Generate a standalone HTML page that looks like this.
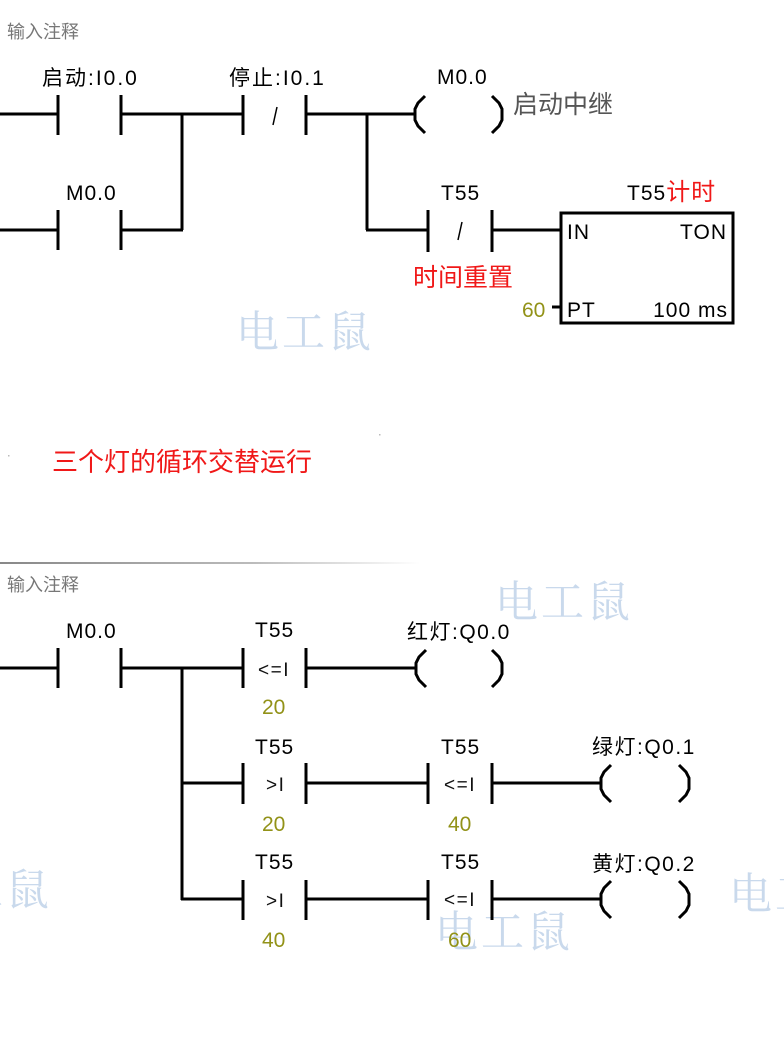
<!DOCTYPE html>
<html>
<head>
<meta charset="utf-8">
<style>
html,body{margin:0;padding:0;background:#fff;}
svg{display:block;}
.t{font-family:"Liberation Sans","Noto Sans CJK SC",sans-serif;font-size:21px;fill:#000;letter-spacing:1px;}
.c{font-family:"Liberation Sans","Noto Sans CJK SC",sans-serif;font-size:18px;fill:#777;}
.cmp{font-family:"Liberation Sans",sans-serif;font-size:19px;fill:#111;letter-spacing:1.5px;}
.ol{font-family:"Liberation Sans",sans-serif;font-size:21px;fill:#929218;}
.red{font-family:"Liberation Sans","Noto Sans CJK SC",sans-serif;fill:#f01818;}
.wm{font-family:"Noto Serif CJK SC","Liberation Serif",serif;font-size:43px;fill:#c9d9ec;letter-spacing:3px;}
</style>
</head>
<body>
<svg width="784" height="1060" viewBox="0 0 784 1060" xmlns="http://www.w3.org/2000/svg">
<defs>
<linearGradient id="sep" x1="0" x2="1" y1="0" y2="0">
<stop offset="0" stop-color="#888"/>
<stop offset="0.6" stop-color="#bbb"/>
<stop offset="1" stop-color="#fff"/>
</linearGradient>
</defs>

<!-- watermarks -->
<text class="wm" x="236" y="347">电工鼠</text>
<text class="wm" x="495" y="617">电工鼠</text>
<text class="wm" x="435" y="947">电工鼠</text>
<text class="wm" x="729" y="909">电工鼠</text>
<text class="wm" x="-86" y="905">电工鼠</text>

<!-- ===== Network 1 ===== -->
<text class="c" x="7" y="38">输入注释</text>

<g stroke="#000" stroke-width="3" fill="none">
<line x1="0" y1="114" x2="58" y2="114"/>
<line x1="58" y1="95" x2="58" y2="135"/>
<line x1="121" y1="95" x2="121" y2="135"/>
<line x1="121" y1="114" x2="243" y2="114"/>
<line x1="243" y1="95" x2="243" y2="135"/>
<line x1="306" y1="95" x2="306" y2="135"/>
<line x1="306" y1="114" x2="416" y2="114"/>
<polyline points="425,96 418,103 415,109 415,120 418,126 425,133"/>
<polyline points="492,96 499,103 502,109 502,120 499,126 492,133"/>
<line x1="182" y1="114" x2="182" y2="230"/>
<line x1="0" y1="230" x2="58" y2="230"/>
<line x1="58" y1="210" x2="58" y2="250"/>
<line x1="121" y1="210" x2="121" y2="250"/>
<line x1="121" y1="230" x2="183" y2="230"/>
<line x1="367" y1="114" x2="367" y2="230"/>
<line x1="366" y1="230" x2="428" y2="230"/>
<line x1="428" y1="210" x2="428" y2="252"/>
<line x1="492" y1="210" x2="492" y2="252"/>
<line x1="492" y1="230" x2="560" y2="230"/>
<rect x="561" y="213" width="172" height="110"/>
<line x1="552" y1="307" x2="561" y2="307"/>
</g>
<g stroke="#000" stroke-width="1.5">
<line x1="277" y1="107" x2="273" y2="125"/>
<line x1="462" y1="222" x2="458" y2="240"/>
</g>

<text class="t" x="42" y="85" style="letter-spacing:2px">启动:I0.0</text>
<text class="t" x="229" y="85" style="letter-spacing:2px">停止:I0.1</text>
<text class="t" x="437" y="84">M0.0</text>
<text x="513" y="113" style="font-family:'Liberation Sans','Noto Sans CJK SC',sans-serif;font-size:25px;fill:#555;">启动中继</text>
<text class="t" x="66" y="200">M0.0</text>
<text class="t" x="441" y="200">T55</text>
<text class="t" x="627" y="200">T55<tspan class="red" style="font-size:24px">计时</tspan></text>
<text class="red" x="413" y="286" style="font-size:25px">时间重置</text>
<text class="t" x="567" y="239">IN</text>
<text class="t" x="727" y="239" text-anchor="end">TON</text>
<text class="t" x="567" y="317">PT</text>
<text class="t" x="728" y="317" text-anchor="end">100 ms</text>
<text class="ol" x="522" y="317">60</text>

<text class="red" x="52" y="471" style="font-size:26px">三个灯的循环交替运行</text>
<rect x="8" y="455" width="1.5" height="1.5" fill="#bbb"/>
<rect x="379" y="434" width="1.5" height="1.5" fill="#bbb"/>

<rect x="0" y="562" width="420" height="2" fill="url(#sep)"/>

<!-- ===== Network 2 ===== -->
<text class="c" x="7" y="591">输入注释</text>

<g stroke="#000" stroke-width="3" fill="none">
<line x1="0" y1="668" x2="58" y2="668"/>
<line x1="58" y1="648" x2="58" y2="688"/>
<line x1="121" y1="648" x2="121" y2="688"/>
<line x1="121" y1="668" x2="243" y2="668"/>
<line x1="243" y1="648" x2="243" y2="688"/>
<line x1="306" y1="648" x2="306" y2="688"/>
<line x1="306" y1="668" x2="416" y2="668"/>
<polyline points="426,650 419,657 416,663 416,674 419,680 426,687"/>
<polyline points="492,650 499,657 502,663 502,674 499,680 492,687"/>
<line x1="182" y1="668" x2="182" y2="900"/>
<line x1="181" y1="783" x2="243" y2="783"/>
<line x1="243" y1="763" x2="243" y2="804"/>
<line x1="306" y1="763" x2="306" y2="804"/>
<line x1="306" y1="783" x2="428" y2="783"/>
<line x1="428" y1="763" x2="428" y2="804"/>
<line x1="492" y1="763" x2="492" y2="804"/>
<line x1="492" y1="783" x2="601" y2="783"/>
<polyline points="611,765 604,772 601,778 601,789 604,795 611,802"/>
<polyline points="679,765 686,772 689,778 689,789 686,795 679,802"/>
<line x1="181" y1="899" x2="243" y2="899"/>
<line x1="243" y1="880" x2="243" y2="920"/>
<line x1="306" y1="880" x2="306" y2="920"/>
<line x1="306" y1="899" x2="428" y2="899"/>
<line x1="428" y1="880" x2="428" y2="920"/>
<line x1="492" y1="880" x2="492" y2="920"/>
<line x1="492" y1="899" x2="601" y2="899"/>
<polyline points="611,881 604,888 601,894 601,905 604,911 611,918"/>
<polyline points="679,881 686,888 689,894 689,905 686,911 679,918"/>
</g>

<text class="t" x="66" y="638">M0.0</text>
<text class="t" x="255" y="637">T55</text>
<text class="cmp" x="258" y="676">&lt;=I</text>
<text class="ol" x="262" y="714">20</text>
<text class="t" x="407" y="639" style="letter-spacing:1.5px">红灯:Q0.0</text>

<text class="t" x="255" y="754">T55</text>
<text class="cmp" x="266" y="791">&gt;I</text>
<text class="ol" x="262" y="831">20</text>
<text class="t" x="441" y="754">T55</text>
<text class="cmp" x="444" y="791">&lt;=I</text>
<text class="ol" x="448" y="831">40</text>
<text class="t" x="592" y="754" style="letter-spacing:1.5px">绿灯:Q0.1</text>

<text class="t" x="255" y="869">T55</text>
<text class="cmp" x="266" y="907">&gt;I</text>
<text class="ol" x="262" y="947">40</text>
<text class="t" x="441" y="869">T55</text>
<text class="cmp" x="444" y="906">&lt;=I</text>
<text class="ol" x="448" y="947">60</text>
<text class="t" x="592" y="871" style="letter-spacing:1.5px">黄灯:Q0.2</text>
</svg>
</body>
</html>
